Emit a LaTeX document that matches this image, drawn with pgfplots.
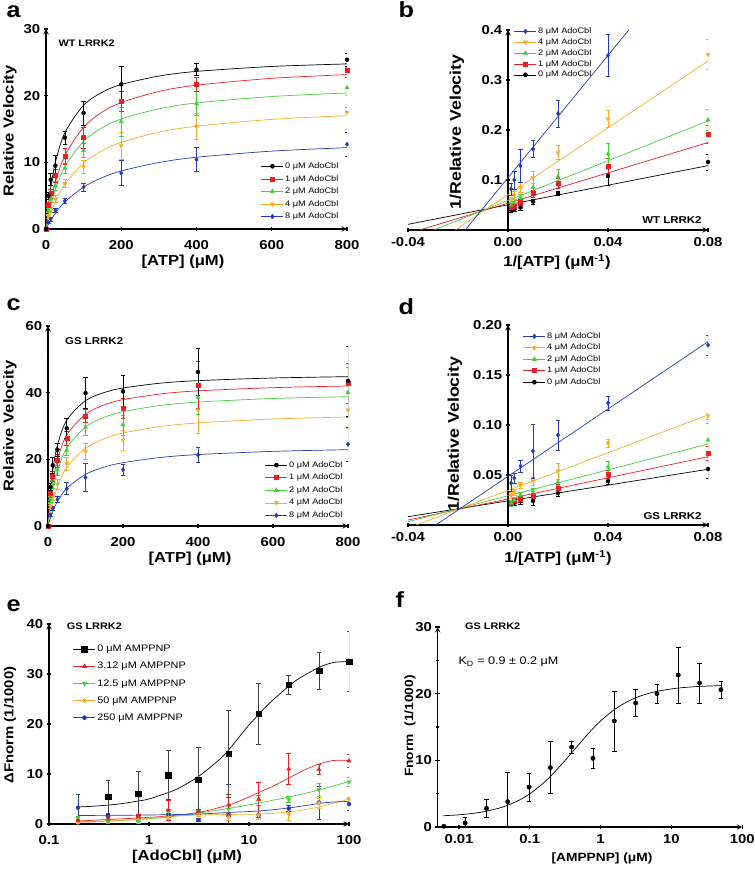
\documentclass[border=0pt]{standalone}
\usepackage{fontspec}
\setmainfont{Liberation Sans}[FakeStretch=1.15]
\usepackage{pgfplots}
\pgfplotsset{compat=1.18}
\definecolor{mred}{RGB}{235,30,35}
\definecolor{mgreen}{RGB}{70,205,60}
\definecolor{morange}{RGB}{248,170,40}
\definecolor{mblue}{RGB}{35,60,185}
\newcommand{\tickfont}{\fontsize{13}{14}\selectfont\bfseries}
\newcommand{\labfont}{\fontsize{14.5}{16}\selectfont\bfseries}
\newcommand{\biglab}{\fontsize{15.5}{17}\selectfont\bfseries}
\newcommand{\smlab}{\fontsize{12}{14}\selectfont\bfseries}
\newcommand{\letfont}{\fontsize{22}{24}\selectfont\bfseries}
\newcommand{\titfont}{\fontsize{10}{12}\selectfont\bfseries}
\newcommand{\titsmall}{\fontsize{9.5}{11}\selectfont\bfseries}

\pgfplotsset{
  legend image code/.code={\draw[mark repeat=2,mark phase=2,#1] plot coordinates {(0bp,0bp) (11bp,0bp) (22bp,0bp)};},
  panel/.style={scale only axis, anchor=south west, enlargelimits=false,
    scaled x ticks=false, scaled y ticks=false,
    axis line style={line width=1.4pt,-}, tick style={line width=1.1pt,black},
    major tick length=4.5bp, minor tick length=2.5bp, tick align=outside,
    tick label style={font=\tickfont}, xticklabel style={yshift=-6bp},
    /pgf/number format/assume math mode=true,
    legend cell align=left,
    legend style={draw=none, fill=none, font=\fontsize{8}{9}\selectfont, row sep=2.3bp, nodes={inner sep=1.5bp}}},
  dat/.style={only marks, forget plot,
    /pgfplots/error bars/y dir=both, /pgfplots/error bars/y explicit,
    /pgfplots/error bars/error bar style={line width=0.6pt},
    /pgfplots/error bars/error mark options={rotate=90, mark size=2.3bp, line width=0.6pt}},
  fit/.style={line width=0.7pt, no markers, forget plot},
  s0/.style={black, mark=*, mark size=2bp},
  s1/.style={mred, mark=square*, mark size=2bp},
  s2/.style={mgreen, mark=triangle*, mark size=2.4bp},
  s3/.style={morange, mark=triangle*, mark options={rotate=180}, mark size=2.4bp},
  s4/.style={mblue, mark=diamond*, mark size=2.2bp},
}

\begin{document}
\begin{tikzpicture}[x=1bp,y=1bp]
\path[use as bounding box] (0bp,0bp) rectangle (755bp,871bp);

% ---------------- a ----------------
\begin{axis}[panel, at={(46bp,642bp)}, width=301bp, height=200bp,
  xmin=0, xmax=800, ymin=0, ymax=30, axis lines=left,
  xtick={0,200,400,600,800}, ytick={0,10,20,30}, minor x tick num=1, minor y tick num=1,
  legend style={at={(0.704,0.35)}, anchor=north west}]
\addplot[fit, black, smooth] coordinates {(0,0) (2,1.24) (5,2.89) (12.5,6.19) (25,10.0) (50,14.44) (100,18.57) (150,20.53) (200,21.67) (300,22.94) (400,23.64) (600,24.38) (800,24.76)};
\addplot[fit, mred, smooth] coordinates {(0,0) (2,0.76) (5,1.82) (12.5,4.11) (25,7.05) (50,11.0) (100,15.28) (150,17.56) (200,18.97) (300,20.63) (400,21.57) (600,22.6) (800,23.16)};
\addplot[fit, mgreen, smooth] coordinates {(0,0) (2,0.63) (5,1.51) (12.5,3.42) (25,5.93) (50,9.35) (100,13.15) (150,15.21) (200,16.5) (300,18.03) (400,18.91) (600,19.87) (800,20.4)};
\addplot[fit, morange, smooth] coordinates {(0,0) (2,0.41) (5,0.98) (12.5,2.28) (25,4.07) (50,6.70) (100,9.90) (150,11.77) (200,13.0) (300,14.52) (400,15.42) (600,16.44) (800,17.0)};
\addplot[fit, mblue, smooth] coordinates {(0,0) (2,0.22) (5,0.55) (12.5,1.29) (25,2.37) (50,4.05) (100,6.29) (150,7.72) (200,8.70) (300,9.97) (400,10.76) (600,11.68) (800,12.2)};
\addplot[s4, dat] coordinates {(0,0)+-(0,0.1) (6.25,1.0)+-(0,0.2) (12.5,1.5)+-(0,0.3) (25,2.8)+-(0,0.3) (50,4.2)+-(0,0.4) (100,6.3)+-(0,0.6) (200,8.4)+-(0,1.9) (400,10.4)+-(0,1.8) (800,12.7)+-(0,1.8)};
\addplot[s3, dat] coordinates {(0,0)+-(0,0.1) (6.25,1.9)+-(0,0.3) (12.5,2.9)+-(0,0.4) (25,4.5)+-(0,0.5) (50,6.8)+-(0,0.6) (100,9.3)+-(0,1.0) (200,12.5)+-(0,2.0) (400,15.4)+-(0,2.0) (800,17.5)+-(0,2.5)};
\addplot[s2, dat] coordinates {(0,0)+-(0,0.1) (6.25,2.8)+-(0,0.3) (12.5,4.5)+-(0,0.5) (25,6.5)+-(0,0.7) (50,9.1)+-(0,0.8) (100,11.8)+-(0,1.0) (200,16.1)+-(0,2.2) (400,18.8)+-(0,1.8) (800,21.2)+-(0,3.0)};
\addplot[s1, dat] coordinates {(0,0)+-(0,0.1) (6.25,3.6)+-(0,0.4) (12.5,5.3)+-(0,0.7) (25,8.0)+-(0,1.0) (50,10.9)+-(0,1.2) (100,13.7)+-(0,1.6) (200,19.1)+-(0,1.5) (400,21.7)+-(0,1.0) (800,23.8)+-(0,1.0)};
\addplot[s0, dat] coordinates {(0,0)+-(0,0.1) (6.25,5.0)+-(0,0.5) (12.5,7.4)+-(0,0.9) (25,9.5)+-(0,1.5) (50,13.7)+-(0,1.0) (100,17.4)+-(0,1.8) (200,21.7)+-(0,2.7) (400,23.9)+-(0,0.9) (800,25.4)+-(0,1.0)};
\addlegendimage{s0, line width=0.6pt}\addlegendentry{0 μM AdoCbl}
\addlegendimage{s1, line width=0.6pt}\addlegendentry{1 μM AdoCbl}
\addlegendimage{s2, line width=0.6pt}\addlegendentry{2 μM AdoCbl}
\addlegendimage{s3, line width=0.6pt}\addlegendentry{4 μM AdoCbl}
\addlegendimage{s4, line width=0.6pt}\addlegendentry{8 μM AdoCbl}
\end{axis}

% ---------------- b ----------------
\begin{axis}[panel, at={(408bp,641bp)}, width=300bp, height=200bp,
  xmin=-0.04, xmax=0.08, ymin=0, ymax=0.4, axis x line=bottom, axis y line=center,
  xticklabel style={yshift=4bp},
  xtick={-0.04,0,0.04,0.08}, xticklabels={-0.04,0.00,0.04,0.08}, minor xtick={-0.02,0.02,0.06},
  ytick={0.1,0.2,0.3,0.4}, yticklabels={0.1,0.2,0.3,0.4}, minor ytick={0.05,0.15,0.25,0.35},
  legend style={at={(0.343,1.03)}, anchor=north west, row sep=0.6bp}]
\addplot[fit, black] coordinates {(-0.04,0.0113) (0.08,0.1287)};
\addplot[fit, mred] coordinates {(-0.0353,0) (0.08,0.175)};
\addplot[fit, mgreen] coordinates {(-0.0297,0) (0.08,0.218)};
\addplot[fit, morange] coordinates {(-0.0211,0) (0.08,0.338)};
\addplot[fit, mblue] coordinates {(-0.0171,0) (0.0483,0.4)};
\addplot[s0, dat] coordinates {(0.00125,0.040)+-(0,0.004) (0.0025,0.042)+-(0,0.004) (0.005,0.045)+-(0,0.005) (0.01,0.057)+-(0,0.005) (0.02,0.073)+-(0,0.004) (0.04,0.108)+-(0,0.018) (0.08,0.136)+-(0,0.016)};
\addplot[s1, dat] coordinates {(0.00125,0.045)+-(0,0.004) (0.0025,0.047)+-(0,0.005) (0.005,0.055)+-(0,0.006) (0.01,0.073)+-(0,0.007) (0.02,0.093)+-(0,0.010) (0.04,0.128)+-(0,0.015) (0.08,0.191)+-(0,0.018)};
\addplot[s2, dat] coordinates {(0.00125,0.050)+-(0,0.005) (0.0025,0.055)+-(0,0.006) (0.005,0.065)+-(0,0.007) (0.01,0.085)+-(0,0.008) (0.02,0.107)+-(0,0.015) (0.04,0.152)+-(0,0.022) (0.08,0.220)+-(0,0.021)};
\addplot[s3, dat] coordinates {(0.00125,0.060)+-(0,0.006) (0.0025,0.070)+-(0,0.008) (0.005,0.085)+-(0,0.010) (0.01,0.105)+-(0,0.012) (0.02,0.155)+-(0,0.014) (0.04,0.222)+-(0,0.017) (0.08,0.351)+-(0,0.030)};
\addplot[s4, dat] coordinates {(0.00125,0.082)+-(0,0.012) (0.0025,0.100)+-(0,0.018) (0.005,0.128)+-(0,0.033) (0.01,0.162)+-(0,0.017) (0.02,0.233)+-(0,0.027) (0.04,0.349)+-(0,0.042)};
\addlegendimage{s4, line width=0.6pt}\addlegendentry{8 μM AdoCbl}
\addlegendimage{s3, line width=0.6pt}\addlegendentry{4 μM AdoCbl}
\addlegendimage{s2, line width=0.6pt}\addlegendentry{2 μM AdoCbl}
\addlegendimage{s1, line width=0.6pt}\addlegendentry{1 μM AdoCbl}
\addlegendimage{s0, line width=0.6pt}\addlegendentry{0 μM AdoCbl}
\end{axis}

% ---------------- c ----------------
\begin{axis}[panel, at={(48bp,345bp)}, width=300bp, height=200bp,
  xmin=0, xmax=800, ymin=0, ymax=60, axis lines=left,
  xtick={0,200,400,600,800}, ytick={0,20,40,60}, minor x tick num=1, minor y tick num=1,
  legend style={at={(0.713,0.341)}, anchor=north west}]
\addplot[fit, black, smooth] coordinates {(0,0) (2,3.76) (5,8.37) (12.5,16.45) (25,24.24) (50,31.77) (100,37.60) (150,40.05) (200,41.40) (300,42.85) (400,43.61) (600,44.40) (800,44.80)};
\addplot[fit, mred, smooth] coordinates {(0,0) (2,2.73) (5,6.24) (12.5,12.84) (25,19.84) (50,27.27) (100,33.54) (150,36.33) (200,37.90) (300,39.62) (400,40.54) (600,41.50) (800,42.0)};
\addplot[fit, mgreen, smooth] coordinates {(0,0) (2,2.10) (5,4.88) (12.5,10.33) (25,16.47) (50,23.43) (100,29.71) (150,32.62) (200,34.30) (300,36.17) (400,37.18) (600,38.25) (800,38.8)};
\addplot[fit, morange, smooth] coordinates {(0,0) (2,1.37) (5,3.23) (12.5,7.09) (25,11.77) (50,17.57) (100,23.33) (150,26.19) (200,27.90) (300,29.85) (400,30.92) (600,32.09) (800,32.70)};
\addplot[fit, mblue, smooth] coordinates {(0,0) (2,0.81) (5,1.93) (12.5,4.32) (25,7.34) (50,11.31) (100,15.49) (150,17.67) (200,19.00) (300,20.56) (400,21.43) (600,22.39) (800,22.90)};
\addplot[s4, dat] coordinates {(0,0)+-(0,0.2) (6.25,3.3)+-(0,0.5) (12.5,5.2)+-(0,0.6) (25,8.0)+-(0,0.8) (50,11.2)+-(0,1.8) (100,14.6)+-(0,4.2) (200,16.9)+-(0,1.7) (400,21.3)+-(0,2.2) (800,24.5)+-(0,5.0)};
\addplot[s3, dat] coordinates {(0,0)+-(0,0.2) (6.25,6.0)+-(0,0.8) (12.5,9.0)+-(0,1.2) (25,12.5)+-(0,1.5) (50,18.7)+-(0,2.0) (100,22.4)+-(0,2.3) (200,25.8)+-(0,3.0) (400,34.8)+-(0,7.0) (800,34.8)+-(0,5.5)};
\addplot[s2, dat] coordinates {(0,0)+-(0,0.2) (6.25,8.0)+-(0,0.8) (12.5,12.5)+-(0,1.2) (25,16.8)+-(0,1.5) (50,22.7)+-(0,1.5) (100,29.7)+-(0,2.5) (200,30.3)+-(0,3.0) (400,38.6)+-(0,5.0) (800,40.0)+-(0,7.5)};
\addplot[s1, dat] coordinates {(0,0)+-(0,0.2) (6.25,9.7)+-(0,1.0) (12.5,15.0)+-(0,1.5) (25,19.6)+-(0,2.0) (50,26.3)+-(0,2.0) (100,33.0)+-(0,2.0) (200,35.4)+-(0,3.0) (400,42.3)+-(0,7.0) (800,42.8)+-(0,6.0)};
\addplot[s0, dat] coordinates {(0,0)+-(0,0.2) (6.25,11.7)+-(0,1.0) (12.5,18.2)+-(0,2.5) (25,22.9)+-(0,2.0) (50,29.3)+-(0,3.0) (100,39.9)+-(0,4.7) (200,40.4)+-(0,4.8) (400,46.2)+-(0,7.0) (800,43.5)+-(0,10.5)};
\addlegendimage{s0, line width=0.6pt}\addlegendentry{0 μM AdoCbl}
\addlegendimage{s1, line width=0.6pt}\addlegendentry{1 μM AdoCbl}
\addlegendimage{s2, line width=0.6pt}\addlegendentry{2 μM AdoCbl}
\addlegendimage{s3, line width=0.6pt}\addlegendentry{4 μM AdoCbl}
\addlegendimage{s4, line width=0.6pt}\addlegendentry{8 μM AdoCbl}
\end{axis}

% ---------------- d ----------------
\begin{axis}[panel, at={(408bp,346bp)}, width=300bp, height=200bp,
  xmin=-0.04, xmax=0.08, ymin=0, ymax=0.2, axis x line=bottom, axis y line=center,
  xticklabel style={yshift=4bp},
  xtick={-0.04,0,0.04,0.08}, xticklabels={-0.04,0.00,0.04,0.08}, minor xtick={-0.02,0.02,0.06},
  ytick={0.05,0.10,0.15,0.20}, yticklabels={0.05,0.10,0.15,0.20}, minor ytick={0.025,0.075,0.125,0.175},
  legend style={at={(0.373,0.98)}, anchor=north west, row sep=1.2bp}]
\addplot[fit, black] coordinates {(-0.04,0.0083) (0.08,0.0557)};
\addplot[fit, mred] coordinates {(-0.04,0.005) (0.08,0.0683)};
\addplot[fit, mgreen] coordinates {(-0.04,0.0033) (0.08,0.081)};
\addplot[fit, morange] coordinates {(-0.0367,0) (0.08,0.11)};
\addplot[fit, mblue] coordinates {(-0.0289,0) (0.08,0.1833)};
\addplot[s0, dat] coordinates {(0.00125,0.021)+-(0,0.002) (0.0025,0.022)+-(0,0.002) (0.005,0.024)+-(0,0.003) (0.01,0.024)+-(0,0.004) (0.02,0.032)+-(0,0.003) (0.04,0.044)+-(0,0.003) (0.08,0.056)+-(0,0.009)};
\addplot[s1, dat] coordinates {(0.00125,0.022)+-(0,0.002) (0.0025,0.025)+-(0,0.002) (0.005,0.026)+-(0,0.003) (0.01,0.029)+-(0,0.003) (0.02,0.037)+-(0,0.004) (0.04,0.051)+-(0,0.004) (0.08,0.072)+-(0,0.007)};
\addplot[s2, dat] coordinates {(0.00125,0.022)+-(0,0.003) (0.0025,0.025)+-(0,0.003) (0.005,0.030)+-(0,0.003) (0.01,0.034)+-(0,0.003) (0.02,0.043)+-(0,0.003) (0.04,0.058)+-(0,0.006) (0.08,0.085)+-(0,0.017)};
\addplot[s3, dat] coordinates {(0.00125,0.030)+-(0,0.003) (0.0025,0.033)+-(0,0.003) (0.005,0.040)+-(0,0.003) (0.01,0.044)+-(0,0.004) (0.02,0.054)+-(0,0.008) (0.04,0.082)+-(0,0.004) (0.08,0.109)+-(0,0.003)};
\addplot[s4, dat] coordinates {(0.00125,0.042)+-(0,0.008) (0.0025,0.047)+-(0,0.005) (0.005,0.059)+-(0,0.006) (0.01,0.074)+-(0,0.027) (0.02,0.090)+-(0,0.015) (0.04,0.122)+-(0,0.007) (0.08,0.180)+-(0,0.010)};
\addlegendimage{s4, line width=0.6pt}\addlegendentry{8 μM AdoCbl}
\addlegendimage{s3, line width=0.6pt}\addlegendentry{4 μM AdoCbl}
\addlegendimage{s2, line width=0.6pt}\addlegendentry{2 μM AdoCbl}
\addlegendimage{s1, line width=0.6pt}\addlegendentry{1 μM AdoCbl}
\addlegendimage{s0, line width=0.6pt}\addlegendentry{0 μM AdoCbl}
\end{axis}

% ---------------- e ----------------
\begin{axis}[panel, at={(49bp,47bp)}, width=300bp, height=200bp,
  xmode=log, xmin=0.1, xmax=100, ymin=0, ymax=40, axis lines=left,
  log ticks with fixed point, xtick={0.1,1,10,100}, ytick={0,10,20,30,40}, minor y tick num=1,
  legend style={at={(0.07,0.9125)}, anchor=north west, font=\fontsize{9.5}{10}\selectfont, row sep=6bp}]
\addplot[fit, black, smooth] coordinates {(0.195,3.4) (0.3,3.6) (0.5,4.0) (0.78,4.6) (1,5.0) (1.5625,6.3) (2,7.2) (3.125,9.5) (5,12.8) (6.25,14.8) (10,19.8) (15,23.6) (20,25.9) (30,28.8) (50,31.3) (70,32.3) (100,32.5)};
\addplot[fit, mred, smooth] coordinates {(0.195,0.6) (0.39,0.9) (0.78,1.2) (1.5625,1.6) (3.125,2.3) (6.25,3.8) (9,5.0) (12.5,6.3) (18,7.7) (25,9.2) (35,10.7) (50,12.0) (70,12.7) (100,12.7)};
\addplot[fit, mgreen, smooth] coordinates {(0.195,0.4) (0.39,0.6) (0.78,0.9) (1.5625,1.4) (3.125,2.2) (6.25,3.1) (12.5,4.2) (25,5.4) (50,6.8) (100,8.5)};
\addplot[fit, morange, smooth] coordinates {(0.195,0.3) (0.39,0.6) (0.78,1.0) (1.5625,1.5) (3.125,1.8) (6.25,1.9) (12.5,2.0) (25,2.4) (50,3.4) (100,5.0)};
\addplot[fit, mblue, smooth] coordinates {(0.195,1.7) (1,1.8) (3.125,2.0) (6.25,2.3) (12.5,2.6) (25,3.2) (50,4.1) (70,4.4) (100,4.5)};
\addplot[mblue, mark=*, mark size=2bp, dat] coordinates {(0.195,3.27)+-(0,2.6) (0.39,1.6)+-(0,0.3) (0.78,1.5)+-(0,0.3) (1.5625,1.8)+-(0,0.4) (3.125,0.8)+-(0,0.3) (6.25,1.7)+-(0,6.3) (12.5,1.8)+-(0,0.8) (25,3.1)+-(0,0.6) (50,4.3)+-(0,3.3) (100,4.0)+-(0,1.2)};
\addplot[morange, mark=diamond*, mark size=2.2bp, dat] coordinates {(0.195,0.3)+-(0,0.2) (0.39,0.6)+-(0,0.2) (0.78,0.9)+-(0,0.3) (1.5625,1.3)+-(0,0.3) (3.125,2.0)+-(0,0.4) (6.25,1.4)+-(0,0.6) (12.5,1.8)+-(0,0.8) (25,2.0)+-(0,1.2) (50,4.2)+-(0,1.0) (100,5.0)+-(0,0.4)};
\addplot[mgreen, mark=triangle*, mark options={rotate=180}, mark size=2.4bp, dat] coordinates {(0.195,1.2)+-(0,0.4) (0.39,0.47)+-(0,0.3) (0.78,0.47)+-(0,0.3) (1.5625,2.5)+-(0,0.5) (3.125,2.3)+-(0,0.4) (6.25,3.0)+-(0,0.8) (12.5,4.8)+-(0,1.0) (25,4.9)+-(0,0.6) (50,6.9)+-(0,1.3) (100,8.4)+-(0,0.9)};
\addplot[mred, mark=triangle*, mark size=2.4bp, dat] coordinates {(0.195,0.67)+-(0,0.3) (0.39,1.07)+-(0,0.3) (0.78,1.6)+-(0,0.4) (1.5625,2.8)+-(0,2.0) (3.125,2.5)+-(0,0.5) (6.25,3.8)+-(0,2.2) (12.5,4.9)+-(0,3.5) (25,11.0)+-(0,3.1) (50,10.9)+-(0,1.0) (100,12.6)+-(0,1.3)};
\addplot[black!75, mark=square*, mark size=2.8bp, mark options={black}, dat] coordinates {(0.39,5.5)+-(0,3.3) (0.78,6.1)+-(0,4.4) (1.5625,9.8)+-(0,4.9) (3.125,8.9)+-(0,6.5) (6.25,14.1)+-(0,8.7) (12.5,22.1)+-(0,6.1) (25,27.9)+-(0,1.9) (50,30.7)+-(0,3.7) (100,32.5)+-(0,6.0)};
\addlegendimage{black, mark=square*, mark size=2.8bp, line width=0.6pt}\addlegendentry{0 μM AMPPNP}
\addlegendimage{mred, mark=triangle*, mark size=2.4bp, line width=0.6pt}\addlegendentry{3.12 μM AMPPNP}
\addlegendimage{mgreen, mark=triangle*, mark options={rotate=180}, mark size=2.4bp, line width=0.6pt}\addlegendentry{12.5 μM AMPPNP}
\addlegendimage{morange, mark=diamond*, mark size=2.2bp, line width=0.6pt}\addlegendentry{50 μM AMPPNP}
\addlegendimage{mblue, mark=*, mark size=2bp, line width=0.6pt}\addlegendentry{250 μM AMPPNP}
\end{axis}

% ---------------- f ----------------
\begin{axis}[panel, at={(437.7bp,44bp)}, width=304.5bp, height=200bp,
  xmode=log, xmin=0.005, xmax=100, ymin=0, ymax=30, axis lines=left,
  xticklabel style={yshift=4bp},
  log ticks with fixed point, xtick={0.01,0.1,1,10,100}, ytick={0,10,20,30}, minor y tick num=1]
\addplot[fit, black, smooth] coordinates {(0.006,1.69) (0.01,1.83) (0.02,2.20) (0.04,2.94) (0.07,4.0) (0.1,4.99) (0.15,6.45) (0.2,7.7) (0.3,9.73) (0.45,11.9) (0.7,14.23) (1,15.9) (1.5,17.46) (2.2,18.6) (3.5,19.58) (6,20.31) (12,20.82) (25,21.09) (50,21.2)};
\addplot[black, mark=*, mark size=2.2bp, dat] coordinates {(0.0061,0.1)+-(0,0.1) (0.0122,0.6)+-(0,0.8) (0.0244,2.8)+-(0,1.3) (0.0488,3.8)+-(0,4.4) (0.0977,6.0)+-(0,2.1) (0.195,8.9)+-(0,3.9) (0.39,12.0)+-(0,0.9) (0.78,10.3)+-(0,1.5) (1.5625,15.9)+-(0,4.5) (3.125,18.6)+-(0,2.0) (6.25,20.0)+-(0,1.4) (12.5,22.8)+-(0,4.2) (25,21.6)+-(0,3.0) (50,20.6)+-(0,1.3)};
\end{axis}

% ---------------- texts ----------------
\node[anchor=base west, font=\letfont] at (3bp,853bp) {a};
\node[anchor=base west, font=\letfont] at (395bp,853bp) {b};
\node[anchor=base west, font=\letfont] at (3bp,560bp) {c};
\node[anchor=base west, font=\letfont] at (395bp,556bp) {d};
\node[anchor=base west, font=\letfont] at (3bp,259bp) {e};
\node[anchor=base west, font=\letfont] at (392bp,263bp) {f};

\node[anchor=base west, font=\titsmall] at (55bp,824bp) {WT LRRK2};
\node[anchor=base east, font=\titfont] at (705bp,647bp) {WT LRRK2};
\node[anchor=base west, font=\titfont] at (61.7bp,526bp) {GS LRRK2};
\node[anchor=base east, font=\titfont] at (705bp,351bp) {GS LRRK2};
\node[anchor=base west, font=\titsmall] at (63.3bp,241.7bp) {GS LRRK2};
\node[anchor=base west, font=\titsmall] at (461.7bp,241bp) {GS LRRK2};
\node[anchor=base west, font=\fontsize{11}{13}\selectfont] at (455bp,206bp) {K\textsubscript{D} = 0.9 ± 0.2 μM};

\node[font=\labfont] at (183bp,609bp) {[ATP] (μM)};
\node[font=\labfont, rotate=90] at (10bp,740bp) {Relative Velocity};
\node[font=\labfont] at (557bp,609bp) {1/[ATP] (μM\textsuperscript{-1})};
\node[font=\biglab, rotate=90] at (457bp,739bp) {1/Relative Velocity};
\node[font=\labfont] at (190bp,312bp) {[ATP] (μM)};
\node[font=\labfont, rotate=90] at (10bp,445bp) {Relative Velocity};
\node[font=\labfont] at (558bp,313bp) {1/[ATP] (μM\textsuperscript{-1})};
\node[font=\biglab, rotate=90] at (455bp,437bp) {1/Relative Velocity};
\node[font=\labfont] at (187bp,14bp) {[AdoCbl] (μM)};
\node[font=\fontsize{13}{15}\selectfont\bfseries, rotate=90] at (10bp,146bp) {ΔFnorm (1/1000)};
\node[font=\smlab] at (602bp,13bp) {[AMPPNP] (μM)};
\node[font=\smlab, rotate=90] at (410bp,145bp) {Fnorm\ \ (1/1000)};
\end{tikzpicture}
\end{document}
